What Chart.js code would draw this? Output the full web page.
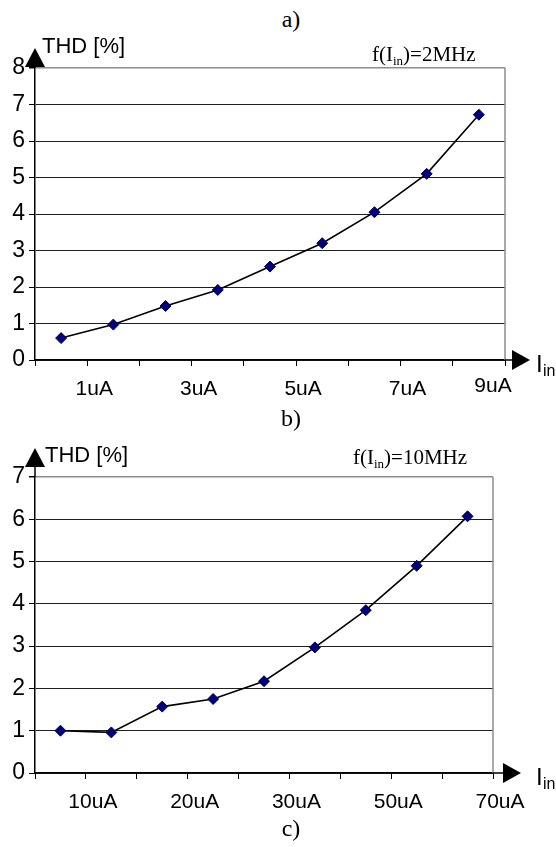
<!DOCTYPE html>
<html>
<head>
<meta charset="utf-8">
<script src="https://cdn.jsdelivr.net/npm/chart.js@4.4.1/dist/chart.umd.min.js"></script>
<style>
	body { margin: 0; background: #fff; }
	#page { position: relative; width: 556px; height: 847px; overflow: hidden; }
	canvas { position: absolute; left: 0; }
	.cap {
		position: absolute;
		font-family: "Liberation Serif", "Times New Roman", serif;
		font-size: 24px;
		transform: translate(-50%, -50%);
	}
</style>
</head>
<body>
<div id="page">
	<div class="cap" style="left:291px; top:19px">a)</div>
	<canvas id="thd2" width="556" height="415" style="top:0; width:556px; height:415px"></canvas>
	<div class="cap" style="left:291px; top:418px">b)</div>
	<canvas id="thd10" width="556" height="432" style="top:415px; width:556px; height:432px"></canvas>
	<div class="cap" style="left:291px; top:828px">c)</div>
</div>
<script>
// ---------------------------------------- Data ----------------------------------------

// points sit in the middle of each of the 9 slots
const pointSlots = [0.5, 1.5, 2.5, 3.5, 4.5, 5.5, 6.5, 7.5, 8.5];

const thd2MHz = [0.6, 0.97, 1.48, 1.92, 2.56, 3.2, 4.05, 5.1, 6.72];
const labels2MHz = ["1uA", "3uA", "5uA", "7uA", "9uA"];
const labelAt2MHz = [1, 3, 5, 7, 9];

const thd10MHz = [1.0, 0.96, 1.57, 1.75, 2.17, 2.97, 3.85, 4.9, 6.07];
const labels10MHz = ["10uA", "20uA", "30uA", "50uA", "70uA"];
const labelAt10MHz = [1, 3, 5, 7, 9];

const SANS = '"Liberation Sans", Arial, sans-serif';
const SERIF = '"Liberation Serif", "Times New Roman", serif';

// ---------------------------------------- Decorations ----------------------------------------

const decor = {
	id: "decor",
	afterDraw(chart, args, o) {
		const ctx = chart.ctx;
		const a = chart.chartArea;
		const xs = chart.scales.x;
		ctx.save();

		// right frame
		ctx.strokeStyle = "#8c8c8c";
		ctx.lineWidth = 1.5;
		ctx.beginPath();
		ctx.moveTo(a.right, a.top);
		ctx.lineTo(a.right, a.bottom);
		ctx.stroke();

		// y axis arrow
		ctx.strokeStyle = "#000";
		ctx.fillStyle = "#000";
		ctx.lineWidth = 1.5;
		const tip = a.top - o.arrowTip;
		ctx.beginPath();
		ctx.moveTo(a.left, a.top);
		ctx.lineTo(a.left, tip + 4);
		ctx.stroke();
		ctx.beginPath();
		ctx.moveTo(a.left, tip);
		ctx.lineTo(a.left + 10, tip + 19);
		ctx.lineTo(a.left - 10, tip + 19);
		ctx.closePath();
		ctx.fill();

		// x axis arrow
		const base = a.right + o.xLine;
		ctx.beginPath();
		ctx.moveTo(a.right, a.bottom);
		ctx.lineTo(base + 2, a.bottom);
		ctx.stroke();
		ctx.beginPath();
		ctx.moveTo(base, a.bottom - 10);
		ctx.lineTo(base + 18, a.bottom);
		ctx.lineTo(base, a.bottom + 10);
		ctx.closePath();
		ctx.fill();

		// axis titles
		ctx.textBaseline = "alphabetic";
		ctx.textAlign = "left";
		ctx.font = "22px " + SANS;
		ctx.fillText("THD [%]", o.thdX, a.top - 15);

		ctx.font = "24px " + SANS;
		ctx.fillText("I", 536, a.bottom + 12);
		ctx.font = "16px " + SANS;
		ctx.fillText("in", 543, a.bottom + 16);

		// frequency note
		let x = o.fX;
		ctx.font = "21px " + SERIF;
		ctx.fillText("f(I", x, o.fY);
		x += ctx.measureText("f(I").width;
		ctx.font = "13px " + SERIF;
		ctx.fillText("in", x, o.fY + 4);
		x += ctx.measureText("in").width;
		ctx.font = "21px " + SERIF;
		ctx.fillText(")=" + o.freq, x, o.fY);

		// x tick labels
		ctx.font = "21px " + SANS;
		ctx.textAlign = "center";
		ctx.textBaseline = "middle";
		for (let i = 0; i < o.labels.length; i++) {
			let lx = xs.getPixelForValue(o.labelAt[i]) + 7;
			let ly = a.bottom + 29;
			if (i === o.labels.length - 1) {
				lx += o.lastShift;
				ly -= o.lastRaise;
			}
			ctx.fillText(o.labels[i], lx, ly);
		}

		ctx.restore();
	},
};

// ---------------------------------------- THD Graph ----------------------------------------

function buildThd(canvasId, values, yMax, area, note) {
	const canvas = document.getElementById(canvasId);
	const points = pointSlots.map((s, i) => ({ x: s, y: values[i] }));

	return new Chart(canvas, {
		type: "line",
		data: {
			datasets: [
				{
					data: points,
					borderColor: "#000",
					borderWidth: 1.6,
					tension: 0,
					pointStyle: "rectRot",
					pointRadius: 5.5,
					pointBorderWidth: 1,
					pointBackgroundColor: "#00007a",
					pointBorderColor: "#00005a",
				},
			],
		},
		options: {
			responsive: false,
			animation: false,
			events: [],
			clip: false,
			layout: {
				padding: { top: area.top, right: canvas.width - area.right, bottom: 0, left: 0 },
			},
			plugins: {
				legend: { display: false },
				tooltip: { enabled: false },
				decor: note,
			},
			scales: {
				x: {
					type: "linear",
					min: 0,
					max: 9,
					afterFit: (scale) => {
						scale.height = canvas.height - area.bottom;
					},
					ticks: {
						stepSize: 1,
						autoSkip: false,
						callback: () => "",
					},
					grid: {
						drawOnChartArea: false,
						drawTicks: true,
						tickLength: 6,
						color: "#000",
					},
					border: { color: "#000", width: 1.5 },
				},
				y: {
					min: 0,
					max: yMax,
					afterFit: (scale) => {
						scale.width = area.left;
					},
					ticks: {
						stepSize: 1,
						padding: 4,
						color: "#000",
						font: { family: SANS, size: 23 },
					},
					grid: {
						color: (c) => (c.tick && c.tick.value === yMax ? "#8c8c8c" : "#202020"),
						lineWidth: (c) => (c.tick && c.tick.value === yMax ? 1.5 : 1),
						tickColor: "#000",
						tickLength: 6,
					},
					border: { color: "#000", width: 1.5 },
				},
			},
		},
		plugins: [decor],
	});
}

const graph2MHz = buildThd("thd2", thd2MHz, 8,
	{ left: 35, top: 68, right: 505, bottom: 360 },
	{
		arrowTip: 20, xLine: 7, thdX: 42, fX: 372, fY: 61, freq: "2MHz",
		labels: labels2MHz, labelAt: labelAt2MHz, lastShift: -19, lastRaise: 3,
	});

const graph10MHz = buildThd("thd10", thd10MHz, 7,
	{ left: 35, top: 62, right: 493, bottom: 358 },
	{
		arrowTip: 29, xLine: 10, thdX: 45, fX: 353, fY: 49, freq: "10MHz",
		labels: labels10MHz, labelAt: labelAt10MHz, lastShift: 0, lastRaise: 0,
	});
</script>
</body>
</html>
